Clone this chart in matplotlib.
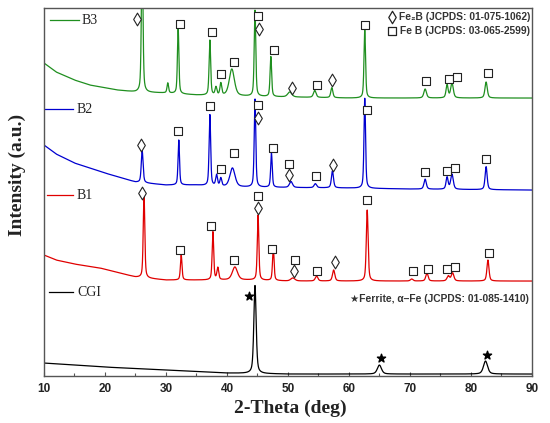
import numpy as np
import matplotlib
matplotlib.use("Agg")
import matplotlib.pyplot as plt

# ---------------- data ----------------
# peak positions (2-theta, deg), heights above baseline (a.u.), widths (deg FWHM)
b3_pos = [26.1, 30.3, 32.0, 37.2, 38.2, 39.0, 40.8, 44.6, 47.2, 50.3, 54.4, 57.2, 62.6, 72.5, 76.1, 76.9, 82.5]
b3_h   = [150, 10, 66, 55, 8, 12, 27, 86, 40, 5, 7, 10, 68, 9, 13, 15, 16]
b3_w   = [0.3, 0.3, 0.28, 0.3, 0.35, 0.35, 1.0, 0.3, 0.3, 0.8, 0.5, 0.4, 0.3, 0.5, 0.4, 0.5, 0.45]
b3_bx  = [10, 12, 15, 17.5, 22, 25, 30, 35, 40, 50, 60, 90]
b3_by  = [313, 304, 296, 291, 286, 284, 283, 281, 280, 279, 278, 278]

b2_pos = [26.1, 32.1, 37.2, 38.3, 39.0, 40.9, 44.6, 47.3, 50.5, 54.5, 57.3, 62.6, 72.5, 76.1, 76.9, 82.5]
b2_h   = [32, 45, 71, 11, 8, 19, 88, 34, 6, 4, 17, 90, 10, 12, 15, 23]
b2_w   = [0.35, 0.28, 0.3, 0.35, 0.35, 1.0, 0.3, 0.3, 0.6, 0.5, 0.4, 0.3, 0.45, 0.4, 0.5, 0.4]
b2_bx  = [10, 12, 15, 20, 25, 30, 35, 40, 60, 70, 90]
b2_by  = [231, 222, 213, 203, 194, 191, 191, 189, 188, 187, 186]

b1_pos = [26.4, 32.5, 37.7, 38.5, 41.3, 45.1, 47.6, 50.8, 54.7, 57.5, 63.0, 70.3, 72.8, 76.3, 77.0, 82.8]
b1_h   = [84, 25, 48, 12, 13, 65, 33, 3, 5, 11, 71, 2, 8, 5, 8, 21]
b1_w   = [0.3, 0.3, 0.3, 0.35, 1.0, 0.3, 0.3, 0.8, 0.5, 0.45, 0.35, 0.5, 0.45, 0.5, 0.5, 0.4]
b1_bx  = [10, 12, 15, 19.2, 25, 30, 44, 50, 90]
b1_by  = [121, 116, 112, 108, 99, 96, 96, 95, 95]

cgi_pos = [44.6, 65.0, 82.4]
cgi_h   = [88, 9, 13]
cgi_w   = [0.45, 0.8, 0.8]
cgi_bx  = [10, 20, 30, 40, 50, 90]
cgi_by  = [13, 9, 6, 3, 2, 2]

# phase markers (2-theta, a.u.)
sq_x = [32.3, 37.5, 39.0, 41.1, 45.1, 47.7, 54.8, 62.6, 72.6, 76.4, 77.7, 82.8,
        32.0, 37.3, 39.0, 41.1, 45.1, 47.6, 50.2, 54.6, 62.9, 72.5, 76.1, 77.4, 82.5,
        32.3, 37.4, 41.2, 45.1, 47.4, 51.1, 54.8, 62.9, 70.5, 72.9, 76.1, 77.4, 83.0]
sq_y = [352, 344, 302, 314, 360, 326, 291, 351, 295, 297, 299, 303,
        245, 270, 207, 223, 271, 228, 212, 200, 266, 204, 205, 208, 217,
        126, 150, 116, 180, 127, 116, 105, 176, 105, 107, 107, 109, 123]
di_x = [25.2, 45.2, 50.6, 57.2,
        25.9, 45.1, 50.2, 57.4,
        26.0, 45.1, 51.0, 57.7]
di_y = [357, 347, 288, 296,
        231, 258, 201, 211,
        183, 168, 105, 114]
st_x = [43.6, 65.2, 82.6]
st_y = [80, 18, 21]

series_names = ["B3", "B2", "B1", "CGI"]
series_colors = ["#1f8f1f", "#0000d0", "#e00000", "#000000"]

# ---------------- build profiles ----------------
tt = np.arange(10, 90.001, 0.02)

def profile(bx, by, pos, h, w):
    y = np.interp(tt, bx, by)
    for p, a, fw in zip(pos, h, w):
        g = np.exp(-4 * np.log(2) * ((tt - p) / fw) ** 2)
        l = 1.0 / (1 + 4 * ((tt - p) / fw) ** 2)
        y = y + a * (0.5 * g + 0.5 * l)
    return y

curves = [profile(b3_bx, b3_by, b3_pos, b3_h, b3_w),
          profile(b2_bx, b2_by, b2_pos, b2_h, b2_w),
          profile(b1_bx, b1_by, b1_pos, b1_h, b1_w),
          profile(cgi_bx, cgi_by, cgi_pos, cgi_h, cgi_w)]

# ---------------- figure ----------------
fig = plt.figure(figsize=(5.5, 4.23), dpi=100)
ax = fig.add_axes([0.08, 0.111, 0.887, 0.870])

for c, col in zip(curves, series_colors):
    ax.plot(tt, c, color=col, lw=0.9)

ax.scatter(sq_x, sq_y, marker="s", s=28, facecolors="white", edgecolors="#222222", linewidths=0.8, zorder=3)
ax.scatter(di_x, di_y, marker="d", s=42, facecolors="white", edgecolors="#222222", linewidths=0.8, zorder=3)
ax.scatter(st_x, st_y, marker="*", s=38, color="black", zorder=3)

# in-plot series labels
lab_line_x0 = [11.0, 10.0, 10.5, 10.8]
lab_line_x1 = [15.7, 14.75, 14.75, 14.75]
lab_y = [356, 267, 181, 84]
lab_tx = [16.1, 15.4, 15.4, 15.4]
for name, col, x0, x1, yy, tx in zip(series_names, series_colors, lab_line_x0, lab_line_x1, lab_y, lab_tx):
    ax.plot([x0, x1], [yy, yy], color=col, lw=0.9)
    ax.text(tx, yy, name, color="#222222", fontsize=10, family="Liberation Serif", va="center", ha="left")

# phase key (top right) and ferrite key
legfont = ["Liberation Sans", "DejaVu Sans"]
ax.scatter([67.1], [359], marker="d", s=40, facecolors="white", edgecolors="#222222", linewidths=0.9, zorder=3)
ax.scatter([67.1], [345], marker="s", s=30, facecolors="white", edgecolors="#222222", linewidths=0.9, zorder=3)
ax.text(89.7, 359, "Fe₂B (JCPDS: 01-075-1062)", fontsize=7.4, fontweight="bold", family=legfont,
        ha="right", va="center", color="#333333")
ax.text(89.7, 345, "Fe B (JCPDS: 03-065-2599)", fontsize=7.4, fontweight="bold", family=legfont,
        ha="right", va="center", color="#333333")
ax.text(89.5, 77, "★Ferrite, α–Fe (JCPDS: 01-085-1410)", fontsize=7.4, fontweight="bold", family=legfont,
        ha="right", va="center", color="#333333")

ax.set_xlim(10, 90)
ax.set_ylim(0, 368)
ax.set_xticks(np.arange(10, 91, 10))
ax.set_xticks(np.arange(15, 90, 10), minor=True)
ax.set_yticks([])
ax.tick_params(axis="x", which="major", direction="in", length=3, width=0.8, color="#555555",
               labelsize=8.5, pad=5)
ax.tick_params(axis="x", which="minor", direction="in", length=2, width=0.8, color="#555555")
for lab in ax.get_xticklabels():
    lab.set_fontweight("bold")
    lab.set_family("Liberation Sans")
    lab.set_color("#222222")
for sp in ax.spines.values():
    sp.set_color("#555555")
    sp.set_linewidth(1.0)

fig.text(290 / 550, 1 - 408 / 423, "2-Theta (deg)", fontsize=14, fontweight="bold",
         family="Liberation Serif", ha="center", va="center", color="#222222")
fig.text(17 / 550, 1 - 175 / 423, "Intensity (a.u.)", fontsize=14, fontweight="bold",
         family="Liberation Serif", ha="center", va="center", rotation=90, color="#222222")

fig.savefig("out.png", dpi=100)
